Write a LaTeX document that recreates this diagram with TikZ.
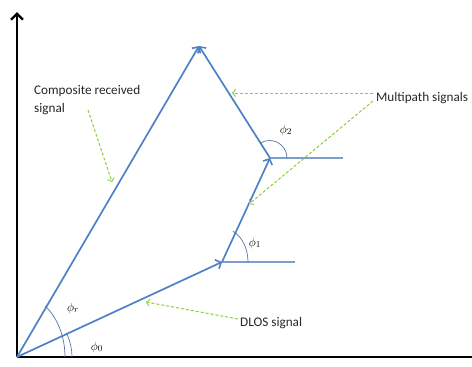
\documentclass[tikz,border=0pt]{standalone}
\usepackage{fontspec}
\setmainfont{Carlito}
\usetikzlibrary{arrows.meta}
\definecolor{vecblue}{RGB}{78,128,196}
\definecolor{refblue}{RGB}{125,158,205}
\definecolor{arcblue}{RGB}{85,115,165}
\definecolor{dashgreen}{RGB}{140,205,60}
\begin{document}
\begin{tikzpicture}[x=1pt,y=-1pt,
  vec/.style={draw=vecblue,line width=1.7pt,-{Straight Barb[length=4.5pt,width=10pt,line width=1.6pt]}},
  refline/.style={draw=refblue,line width=1.1pt},
  anglearc/.style={draw=arcblue,line width=0.7pt},
  callout/.style={draw=dashgreen,line width=1pt,dash pattern=on 3pt off 2pt,-{Straight Barb[length=3pt,width=7pt,line width=0.9pt]}},
  axis/.style={draw=black,line width=2.4pt},
  lbl/.style={font=\fontsize{13.2}{18}\selectfont,text=black!85,inner sep=0pt},
  ang/.style={font=\fontsize{13}{15}\selectfont,inner sep=0pt}]
\useasboundingbox (0,0) rectangle (472,367);
% key points
\coordinate (O) at (17,357);
\coordinate (A) at (222,262);
\coordinate (B) at (270,158);
\coordinate (C) at (199,46);
\coordinate (Ytop) at (17,12);
\coordinate (Xend) at (475,357);
\coordinate (Aref) at (295,262);
\coordinate (Bref) at (343,158);
% axes
\draw[axis,-{Straight Barb[length=6pt,width=12pt,line width=2.4pt]}] (O) -- (Ytop);
\draw[axis] (O) -- (Xend);
% reference lines
\draw[refline] (A) -- (Aref);
\draw[refline] (B) -- (Bref);
% vectors
\draw[vec] (O) -- (A);
\draw[vec] (A) -- (B);
\draw[vec] (B) -- (C);
\draw[vec] (O) -- (C);
% angle arcs
\draw[anglearc] (72,357) arc[start angle=0,end angle=-24.4,radius=55];
\draw[anglearc] (65,357) arc[start angle=0,end angle=-54,x radius=48,y radius=63];
\draw[anglearc] (A) ++(26,0) arc[start angle=0,end angle=-65.2,x radius=26,y radius=34];
\draw[anglearc] (B) ++(17,0) arc[start angle=0,end angle=-122.6,radius=17.5];
% angle labels
\node[ang] (p0) at (97,347) {$\phi_0$};
\node[ang] (pr) at (73,308) {$\phi_r$};
\node[ang] (p1) at (255,243) {$\phi_1$};
\node[ang] (p2) at (286,130) {$\phi_2$};
% text labels
\node[lbl,anchor=west,align=left] (comp) at (34,100) {Composite received\\signal};
\node[lbl,anchor=west] (multi) at (376,98) {Multipath signals};
\node[lbl,anchor=west] (dlos) at (240,323) {DLOS signal};
% callout arrows
\coordinate (c1s) at (88,110);
\coordinate (c1e) at (112,182);
\draw[callout] (c1s) -- (c1e);
\coordinate (m1s) at (373,93);
\coordinate (m1e) at (232,93);
\draw[callout] (m1s) -- (m1e);
\coordinate (m2s) at (373,101);
\coordinate (m2e) at (249,204);
\draw[callout] (m2s) -- (m2e);
\coordinate (d1s) at (238,319);
\coordinate (d1e) at (146,302);
\draw[callout] (d1s) -- (d1e);
\end{tikzpicture}
\end{document}
